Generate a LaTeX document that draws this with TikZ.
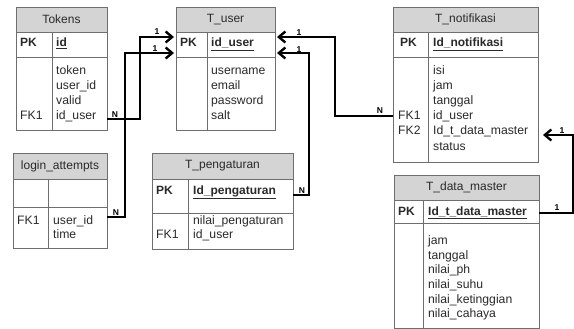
\documentclass[tikz,border=0pt]{standalone}
\usepackage{fontspec}
\setmainfont{Liberation Sans}
\usetikzlibrary{arrows.meta}
\definecolor{bordc}{HTML}{6E6E6E}
\definecolor{hdrc}{HTML}{D4D4D4}
\definecolor{txtc}{HTML}{2A2A2A}
\begin{document}
\begin{tikzpicture}[x=1pt,y=-1pt,
  tbox/.style={draw=bordc, line width=0.9pt, anchor=north west, inner sep=0pt, outer sep=0pt},
  hdr/.style={tbox, fill=hdrc, font=\fontsize{12}{13}\selectfont, text=txtc},
  cellbox/.style={tbox, fill=white},
  divline/.style={draw=bordc, line width=0.9pt},
  fld/.style={anchor=west, inner sep=0pt, text height=8.5pt, text depth=2.5pt, font=\fontsize{12.2}{13}\selectfont, text=txtc},
  pkf/.style={fld, font=\fontsize{12}{13}\selectfont\bfseries},
  conn/.style={line width=2.4pt, black, line join=miter},
  arr/.style={conn, -{Straight Barb[length=6.5pt, width=11pt]}},
  lab/.style={font=\fontsize{8.5}{9}\selectfont\bfseries, inner sep=0.5pt}
]
\useasboundingbox (0,0) rectangle (574,329);
\fill[white] (0,0) rectangle (574,329);

% ---------- Tokens ----------
\node[hdr, minimum width=91pt, minimum height=25pt] (tok-h) at (16,7) {Tokens};
\node[cellbox, minimum width=91pt, minimum height=25pt] (tok-pk) at (16,32) {};
\node[cellbox, minimum width=91pt, minimum height=73pt] (tok-b) at (16,57) {};
\draw[divline] (52,32) -- (52,130);
\node[pkf] (tok-pkl) at (20,44) {PK};
\node[pkf] (tok-pkn) at (56,44) {\underline{id}};
\node[fld] (tok-f1) at (56,72) {token};
\node[fld] (tok-f2) at (56,87) {user\_id};
\node[fld] (tok-f3) at (56,102) {valid};
\node[fld] (tok-f4) at (56,117) {id\_user};
\node[fld] (tok-fk) at (20,117) {FK1};

% ---------- T_user ----------
\node[hdr, minimum width=99pt, minimum height=25pt] (usr-h) at (176,7) {T\_user};
\node[cellbox, minimum width=99pt, minimum height=25pt] (usr-pk) at (176,32) {};
\node[cellbox, minimum width=99pt, minimum height=73pt] (usr-b) at (176,57) {};
\draw[divline] (207,32) -- (207,130);
\node[pkf] (usr-pkl) at (180,44) {PK};
\node[pkf] (usr-pkn) at (211,44) {\underline{id\_user}};
\node[fld] (usr-f1) at (211,72) {username};
\node[fld] (usr-f2) at (211,87) {email};
\node[fld] (usr-f3) at (211,102) {password};
\node[fld] (usr-f4) at (211,117) {salt};

% ---------- T_notifikasi ----------
\node[hdr, minimum width=145pt, minimum height=25pt] (not-h) at (393,7) {T\_notifikasi};
\node[cellbox, minimum width=145pt, minimum height=25pt] (not-pk) at (393,32) {};
\node[cellbox, minimum width=145pt, minimum height=105pt] (not-b) at (393,57) {};
\draw[divline] (428,32) -- (428,162);
\node[pkf] (not-pkl) at (400,44) {PK};
\node[pkf] (not-pkn) at (433,44) {\underline{Id\_notifikasi}};
\node[fld] (not-f1) at (433,72) {isi};
\node[fld] (not-f2) at (433,87) {jam};
\node[fld] (not-f3) at (433,102) {tanggal};
\node[fld] (not-f4) at (433,117) {id\_user};
\node[fld] (not-f5) at (433,132) {Id\_t\_data\_master};
\node[fld] (not-f6) at (433,147) {status};
\node[fld] (not-fk1) at (398,117) {FK1};
\node[fld] (not-fk2) at (398,132) {FK2};

% ---------- login_attempts ----------
\node[hdr, minimum width=94pt, minimum height=26pt] (log-h) at (13,153) {login\_attempts};
\node[cellbox, minimum width=94pt, minimum height=28pt] (log-pk) at (13,179) {};
\node[cellbox, minimum width=94pt, minimum height=41pt] (log-b) at (13,207) {};
\draw[divline] (48,179) -- (48,248);
\node[fld] (log-fk) at (17,221) {FK1};
\node[fld] (log-f1) at (53,221) {user\_id};
\node[fld] (log-f2) at (53,235) {time};

% ---------- T_pengaturan ----------
\node[hdr, minimum width=141pt, minimum height=26pt] (pen-h) at (152,153) {T\_pengaturan};
\node[cellbox, minimum width=141pt, minimum height=34pt] (pen-pk) at (152,179) {};
\node[cellbox, minimum width=141pt, minimum height=36pt] (pen-b) at (152,213) {};
\draw[divline] (188,179) -- (188,249);
\node[pkf] (pen-pkl) at (156,191) {PK};
\node[pkf] (pen-pkn) at (193,191) {\underline{Id\_pengaturan}};
\node[fld] (pen-f1) at (193,221) {nilai\_pengaturan};
\node[fld] (pen-f2) at (193,235) {id\_user};
\node[fld] (pen-fk) at (156,235) {FK1};

% ---------- T_data_master ----------
\node[hdr, minimum width=145pt, minimum height=25pt] (dm-h) at (394,175) {T\_data\_master};
\node[cellbox, minimum width=145pt, minimum height=23pt] (dm-pk) at (394,200) {};
\node[cellbox, minimum width=145pt, minimum height=105pt] (dm-b) at (394,223) {};
\draw[divline] (423,200) -- (423,328);
\node[pkf] (dm-pkl) at (398,212) {PK};
\node[pkf] (dm-pkn) at (428,212) {\underline{Id\_t\_data\_master}};
\node[fld] (dm-f1) at (428,241) {jam};
\node[fld] (dm-f2) at (428,256) {tanggal};
\node[fld] (dm-f3) at (428,270) {nilai\_ph};
\node[fld] (dm-f4) at (428,285) {nilai\_suhu};
\node[fld] (dm-f5) at (428,300) {nilai\_ketinggian};
\node[fld] (dm-f6) at (428,314) {nilai\_cahaya};

% ---------- connector ends ----------
\coordinate (tokA) at (107,119);
\coordinate (usrL1) at (174,37);
\coordinate (logA) at (107,217);
\coordinate (usrL2) at (174,53);
\coordinate (notA) at (393,116);
\coordinate (usrR1) at (277,37);
\coordinate (penA) at (293,195);
\coordinate (usrR2) at (277,53);
\coordinate (dmA) at (539,213);
\coordinate (notR) at (543,135);

\draw[arr] (tokA) -- ++(33,0) |- (usrL1);
\draw[arr] (logA) -- ++(18,0) |- (usrL2);
\draw[arr] (notA) -- ++(-58,0) |- (usrR1);
\draw[arr] (penA) -- ++(16,0) |- (usrR2);
\draw[arr] (dmA) -- ++(34,0) |- (notR);

% ---------- cardinality labels ----------
\node[lab] (l1) at (115,115) {N};
\node[lab] (l2) at (157,32) {1};
\node[lab] (l3) at (116,213) {N};
\node[lab] (l4) at (155,49) {1};
\node[lab] (l5) at (380,111) {N};
\node[lab] (l6) at (299,33) {1};
\node[lab] (l7) at (302,191) {N};
\node[lab] (l8) at (299,50) {1};
\node[lab] (l9) at (562,131) {1};
\node[lab] (l10) at (557,208) {1};
\end{tikzpicture}
\end{document}
